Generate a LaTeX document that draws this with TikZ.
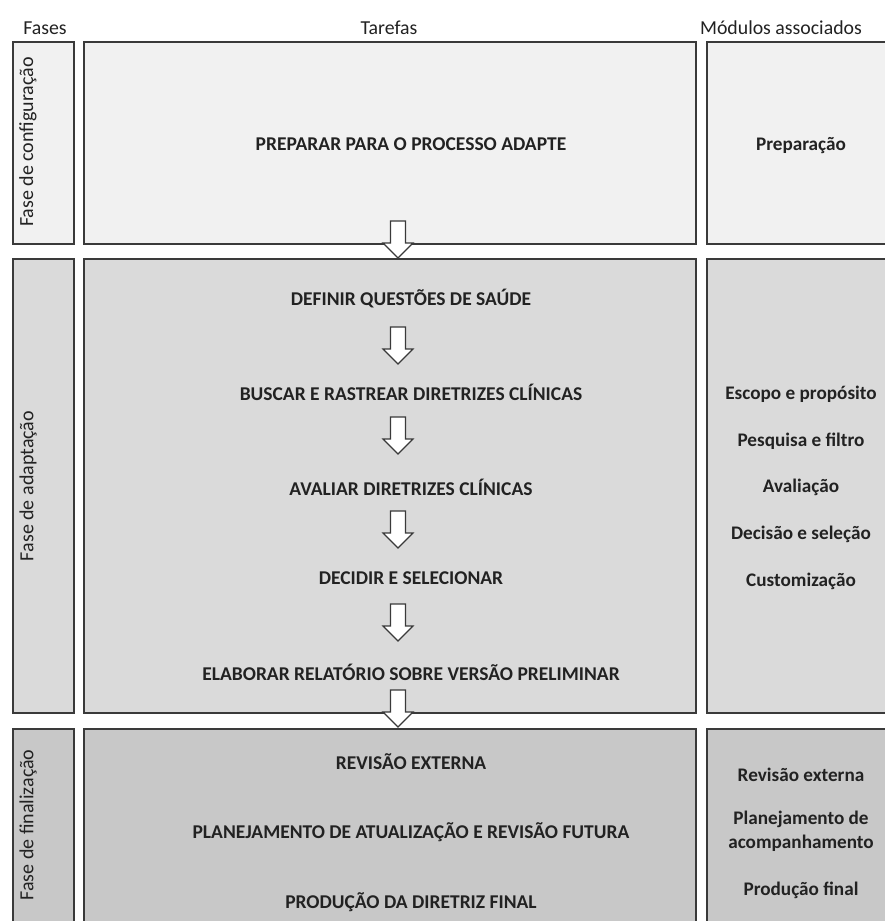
\documentclass[tikz,border=0pt]{standalone}
\usepackage{fontspec}
\setmainfont{Carlito}
\definecolor{edge}{HTML}{3A3A3A}
\definecolor{fillA}{HTML}{F1F1F1}
\definecolor{fillB}{HTML}{DADADA}
\definecolor{fillC}{HTML}{C8C8C8}
\definecolor{ink}{HTML}{222222}
\begin{document}
\begin{tikzpicture}[x=1pt,y=-1pt,
  box/.style={draw=edge, line width=1.7pt, anchor=north west, inner sep=0pt},
  task/.style={font=\fontsize{19.5}{22}\selectfont\bfseries, text=ink},
  modl/.style={font=\fontsize{19.2}{24}\selectfont\bfseries, text=ink, align=center},
  head/.style={font=\fontsize{19.8}{22}\selectfont, text=ink},
  phase/.style={font=\fontsize{20}{22}\selectfont, text=ink, rotate=90},
  blockarrow/.pic={\draw[draw=edge, line width=1.2pt, fill=white, line join=miter]
    (-7.5,0) -- (7.5,0) -- (7.5,22) -- (15,22) -- (0,37) -- (-15,22) -- (-7.5,22) -- cycle;}
]
\useasboundingbox (0,0) rectangle (885,921);
\clip (0,0) rectangle (885,921);
\fill[white] (0,0) rectangle (885,921);

% headers
\node[head] (hF) at (45,28) {Fases};
\node[head] (hT) at (389,28) {Tarefas};
\node[head] (hM) at (781,28) {Módulos associados};

% phase column
\node[box, fill=fillA, minimum width=61, minimum height=202] (p1) at (12,41) {};
\node[box, fill=fillB, minimum width=61, minimum height=454] (p2) at (12,258) {};
\node[box, fill=fillC, minimum width=61, minimum height=207] (p3) at (12,728) {};

% task column
\node[box, fill=fillA, minimum width=612, minimum height=202] (t1) at (83,41) {};
\node[box, fill=fillB, minimum width=612, minimum height=454] (t2) at (83,258) {};
\node[box, fill=fillC, minimum width=612, minimum height=207] (t3) at (83,728) {};

% module column
\node[box, fill=fillA, minimum width=191, minimum height=202] (m1) at (706,41) {};
\node[box, fill=fillB, minimum width=191, minimum height=454] (m2) at (706,258) {};
\node[box, fill=fillC, minimum width=191, minimum height=207] (m3) at (706,728) {};

% arrows
\pic at (398,221) {blockarrow};
\pic at (398,327) {blockarrow};
\pic at (398,417) {blockarrow};
\pic at (398,511) {blockarrow};
\pic at (398,604) {blockarrow};
\pic at (398,690) {blockarrow};

% phase labels
\node[phase] (l1) at (28,142) {Fase de configuração};
\node[phase] (l2) at (28,486) {Fase de adaptação};
\node[phase] (l3) at (28,825) {Fase de finalização};

% tasks
\node[task] (a0) at (411,144) {PREPARAR PARA O PROCESSO ADAPTE};
\node[task] (a1) at (411,299) {DEFINIR QUESTÕES DE SAÚDE};
\node[task] (a2) at (411,392) {BUSCAR E RASTREAR DIRETRIZES CLÍNICAS};
\node[task] (a3) at (411,487) {AVALIAR DIRETRIZES CLÍNICAS};
\node[task] (a4) at (411,578) {DECIDIR E SELECIONAR};
\node[task] (a5) at (411,672) {ELABORAR RELATÓRIO SOBRE VERSÃO PRELIMINAR};
\node[task] (a6) at (411,762) {REVISÃO EXTERNA};
\node[task] (a7) at (411,832) {PLANEJAMENTO DE ATUALIZAÇÃO E REVISÃO FUTURA};
\node[task] (a8) at (411,902) {PRODUÇÃO DA DIRETRIZ FINAL};

% modules
\node[modl] (b0) at (801,146) {Preparação};
\node[modl] (b1) at (801,394) {Escopo e propósito};
\node[modl] (b2) at (801,441) {Pesquisa e filtro};
\node[modl] (b3) at (801,487) {Avaliação};
\node[modl] (b4) at (801,534) {Decisão e seleção};
\node[modl] (b5) at (801,581) {Customização};
\node[modl] (b6) at (801,775) {Revisão externa};
\node[modl] (b7) at (801,831) {Planejamento de\\acompanhamento};
\node[modl] (b8) at (801,890) {Produção final};
\end{tikzpicture}
\end{document}
